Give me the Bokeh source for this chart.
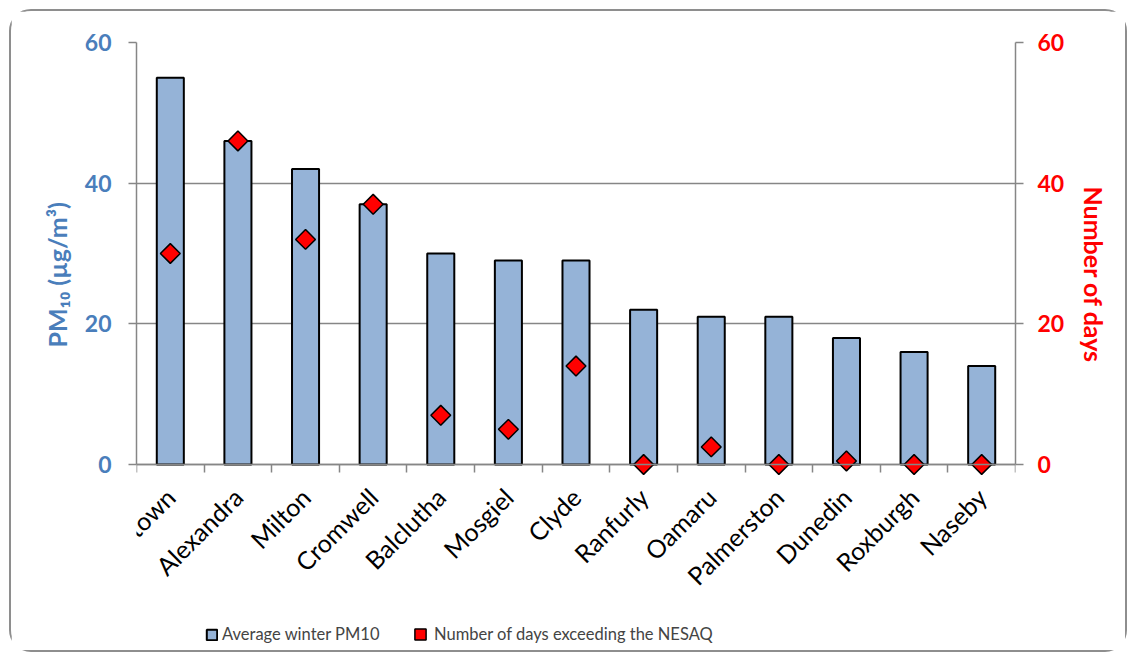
import math
from bokeh.plotting import figure
from bokeh.models import (ColumnDataSource, Range1d, LinearAxis, FixedTicker,
                          Legend, LegendItem)
from bokeh.embed import file_html
from bokeh.resources import INLINE

sites = ["Arrowtown", "Alexandra", "Milton", "Cromwell", "Balclutha", "Mosgiel",
         "Clyde", "Ranfurly", "Oamaru", "Palmerston", "Dunedin", "Roxburgh", "Naseby"]
pm10 = [55, 46, 42, 37, 30, 29, 29, 22, 21, 21, 18, 16, 14]
days = [30, 46, 32, 37, 7, 5, 14, 0, 2.5, 0, 0.5, 0, 0]
y_ticks = [0, 20, 40, 60]

FONT = "Lato"
BLUE = "#4A7EBB"
GREY = "#868686"

# layout (pixels): value axis spans 422 px; extra space below it holds labels + legend
AXIS_PX = 422
BELOW_PX = 186
Y_MAX = 60
Y_MIN = -Y_MAX * BELOW_PX / AXIS_PX
PAD = "\u2003" * 7 + "\u00a0" * 2   # keeps axis titles centred on the 0-60 span

centers = [i + 0.5 for i in range(len(sites))]
bounds = [i for i in range(len(sites) + 1)]
src = ColumnDataSource(dict(x=centers, pm=pm10, d=days, name=sites))

p = figure(frame_width=879, frame_height=AXIS_PX + BELOW_PX, output_backend="svg",
           toolbar_location=None,
           x_range=Range1d(0, len(sites)), y_range=Range1d(Y_MIN, Y_MAX),
           min_border_left=125, min_border_right=110, min_border_top=31,
           min_border_bottom=0, y_axis_location=None, x_axis_location=None)
p.extra_y_ranges = {"days": Range1d(Y_MIN, Y_MAX)}
p.outline_line_color = None
p.styles = {"border": "2px solid #8E8E8E", "border-radius": "22px",
            "margin": "9px 0 0 9px"}

# x axis drawn at value 0, inside the frame
xa = LinearAxis(ticker=FixedTicker(ticks=centers, minor_ticks=bounds),
                major_label_overrides={c: s for c, s in zip(centers, sites)},
                fixed_location=0)
xa.major_label_orientation = math.pi / 4
xa.major_tick_line_color = None
xa.major_tick_out = 0
xa.major_tick_in = 0
xa.minor_tick_out = 8
xa.minor_tick_in = 0
xa.minor_tick_line_color = GREY
xa.minor_tick_line_width = 1.5
xa.axis_line_color = GREY
xa.axis_line_width = 1.5
xa.major_label_text_font = FONT
xa.major_label_text_font_size = "25px"
xa.major_label_text_color = "black"
xa.major_label_standoff = 20
p.add_layout(xa, "below")

ya = LinearAxis(ticker=FixedTicker(ticks=y_ticks), bounds=(0, Y_MAX))
ya.axis_label = PAD + "PM\u2081\u2080 (\u00b5g/m\u00b3)"
ya.axis_label_text_font = FONT
ya.axis_label_text_font_style = "bold"
ya.axis_label_text_font_size = "25px"
ya.axis_label_text_color = BLUE
ya.axis_label_standoff = 10
ya.major_label_text_font = FONT
ya.major_label_text_font_style = "bold"
ya.major_label_text_font_size = "23px"
ya.major_label_text_color = BLUE
ya.major_label_standoff = 17
ya.major_tick_out = 8
ya.major_tick_in = 0
ya.major_tick_line_color = GREY
ya.major_tick_line_width = 1.5
ya.minor_tick_line_color = None
ya.axis_line_color = GREY
ya.axis_line_width = 1.5
p.add_layout(ya, "left")

ra = LinearAxis(ticker=FixedTicker(ticks=y_ticks), y_range_name="days", bounds=(0, Y_MAX))
ra.axis_label = "Number of days" + PAD
ra.axis_label_text_font = FONT
ra.axis_label_text_font_style = "bold"
ra.axis_label_text_font_size = "25px"
ra.axis_label_text_color = "#FF0000"
ra.axis_label_standoff = 12
ra.major_label_text_font = FONT
ra.major_label_text_font_style = "bold"
ra.major_label_text_font_size = "23px"
ra.major_label_text_color = "#FF0000"
ra.major_label_standoff = 14
ra.major_tick_out = 8
ra.major_tick_in = 0
ra.major_tick_line_color = GREY
ra.major_tick_line_width = 1.5
ra.minor_tick_line_color = None
ra.axis_line_color = GREY
ra.axis_line_width = 1.5
p.add_layout(ra, "right")

p.xgrid.visible = False
p.ygrid.ticker = FixedTicker(ticks=y_ticks)
p.ygrid.grid_line_color = GREY
p.ygrid.grid_line_width = 1.5

bars = p.vbar(x="x", top="pm", width=0.4, bottom=0, source=src,
              fill_color="#95B3D7", line_color="black", line_width=2)
pts = p.scatter(x="x", y="d", source=src, y_range_name="days", marker="square",
                angle=math.pi / 4, size=14, fill_color="#FF0000",
                line_color="black", line_width=1.5)

common = dict(orientation="horizontal", padding=0, margin=0, label_standoff=4,
              border_line_color=None, background_fill_alpha=0,
              label_text_font=FONT, label_text_font_size="16.5px")
legend_bar = Legend(items=[LegendItem(label="Average winter PM10", renderers=[bars])],
                    location=(69, 6), glyph_width=13, glyph_height=13, **common)
legend_pts = Legend(items=[LegendItem(label="Number of days exceeding the NESAQ",
                                      renderers=[pts])],
                    location=(270, 2), glyph_width=28, glyph_height=28, **common)
legend_pts.label_standoff = 0
p.add_layout(legend_bar, "center")
p.add_layout(legend_pts, "center")

open("out.html", "w").write(file_html(p, INLINE))
